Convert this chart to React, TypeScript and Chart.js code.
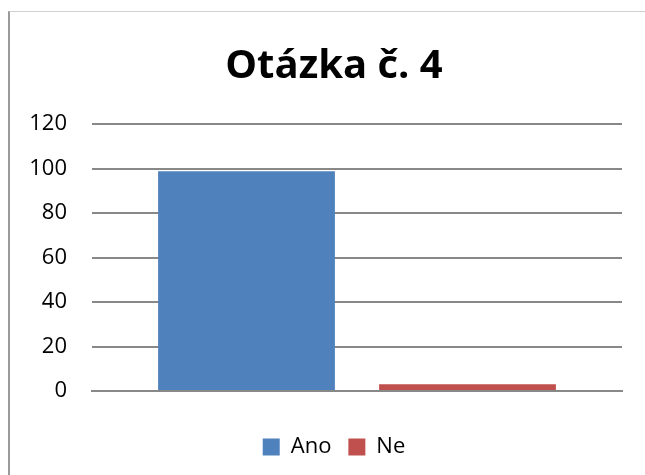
import React, { useEffect, useRef } from "react";
import { Chart, registerables } from "chart.js";

Chart.register(...registerables);

const categories: string[] = [""];
const seriesNames: string[] = ["Ano", "Ne"];
const anoValues: number[] = [98.8];
const neValues: number[] = [3];
const yTicks: number[] = [0, 20, 40, 60, 80, 100, 120];
const titleText = "Otázka č. 4";

export default function App() {
  const ref = useRef<HTMLCanvasElement | null>(null);

  useEffect(() => {
    if (!ref.current) return;
    const chart = new Chart(ref.current, {
      type: "bar",
      data: {
        labels: categories,
        datasets: [
          {
            label: seriesNames[0],
            data: anoValues,
            backgroundColor: "#4F81BD",
            borderWidth: 0,
            categoryPercentage: 0.834,
            barPercentage: 0.8,
          },
          {
            label: seriesNames[1],
            data: neValues,
            backgroundColor: "#C0504D",
            borderWidth: 0,
            categoryPercentage: 0.834,
            barPercentage: 0.8,
          },
        ],
      },
      options: {
        animation: false,
        responsive: false,
        maintainAspectRatio: false,
        layout: { padding: { left: 0, right: 0, top: 43, bottom: 7 } },
        plugins: {
          title: {
            display: true,
            text: titleText,
            color: "#000",
            font: { family: "'Open Sans'", size: 40, weight: "bold" },
            padding: { top: 0, bottom: 33 },
          },
          legend: {
            display: true,
            position: "bottom",
            labels: {
              color: "#000",
              font: { family: "'Open Sans'", size: 22 },
              boxWidth: 17,
              boxHeight: 17,
              padding: 17,
            },
          },
          tooltip: { enabled: false },
        },
        scales: {
          x: {
            grid: { display: false, drawTicks: false },
            border: { display: true, color: "#888888", width: 2 },
            ticks: { display: false },
            afterFit: (s: any) => {
              s.height = 28;
            },
          },
          y: {
            position: "left",
            min: 0,
            max: 120,
            afterBuildTicks: (s: any) => {
              s.ticks = yTicks.map((v) => ({ value: v }));
            },
            grid: { color: "#888888", lineWidth: 2, drawTicks: false },
            border: { display: false },
            ticks: {
              color: "#000",
              font: { family: "'Open Sans'", size: 22 },
              padding: 25,
            },
            afterFit: (s: any) => {
              s.width = 92;
            },
          },
          yRight: {
            type: "linear",
            position: "right",
            display: true,
            min: 0,
            max: 120,
            grid: { display: false, drawTicks: false },
            border: { display: false },
            ticks: { display: false },
            afterFit: (s: any) => {
              s.width = 46;
            },
          },
        },
      },
    });
    return () => chart.destroy();
  }, []);

  return (
    <div style={{ position: "fixed", left: 0, top: 0, width: 645, height: 475, background: "#fff", overflow: "hidden" }}>
      <div
        style={{
          position: "absolute",
          left: 8,
          top: 11,
          width: 700,
          height: 500,
          borderLeft: "2px solid #9a9a9a",
          borderTop: "1px solid #d0d0d0",
        }}
      />
      <canvas ref={ref} width={668} height={475} style={{ position: "absolute", left: 0, top: 0 }} />
    </div>
  );
}
